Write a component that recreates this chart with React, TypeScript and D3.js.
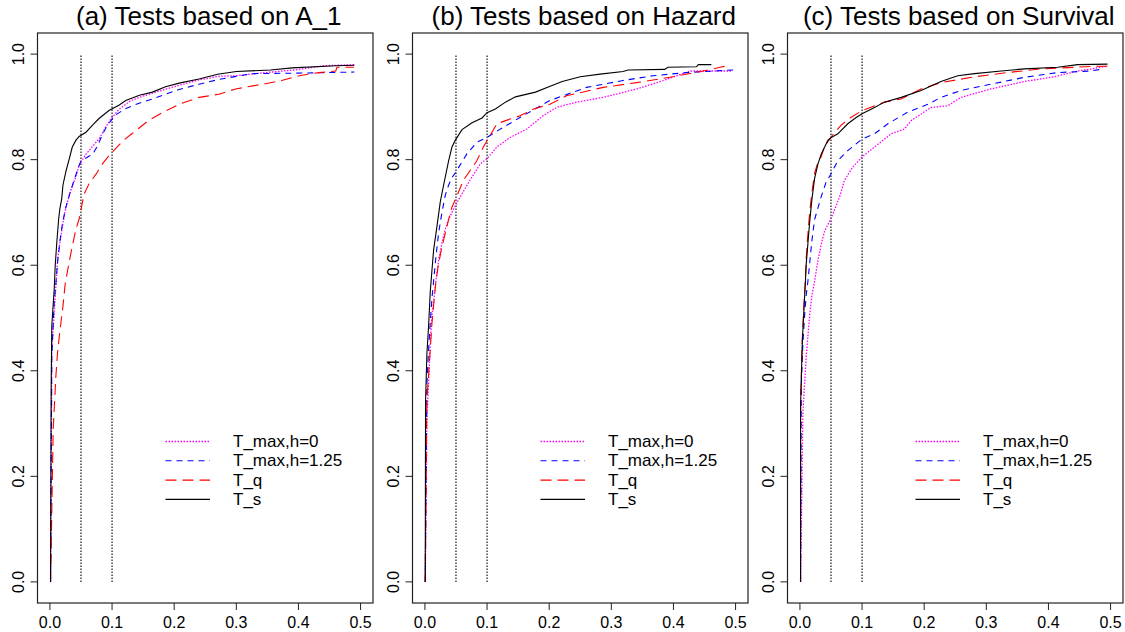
import { useMemo } from "react";
import * as d3 from "d3";

const WIDTH = 1125;
const HEIGHT = 632;
const PANEL_W = 375;
const MARGIN = { top: 33, right: 2, bottom: 29, left: 37.5 };
const FONT = "'Liberation Sans', Arial, Helvetica, sans-serif";

const TITLES = [
  "(a) Tests based on A_1",
  "(b) Tests based on Hazard",
  "(c) Tests based on Survival",
];
const LABELS = ["T_max,h=0", "T_max,h=1.25", "T_q", "T_s"];
const COLORS = ["#ff00ff", "#0000ff", "#ff0000", "black"];
const DASHES = ["1.5,1.5", "6,5", "11,6", "none"];
const WIDTHS = [1.3, 1.1, 1.1, 1.1];

const X_TICKS = [0, 0.1, 0.2, 0.3, 0.4, 0.5];
const Y_TICKS = [0, 0.2, 0.4, 0.6, 0.8, 1.0];
const SIZE_LINES = [0.05, 0.1];

// (a) A_1
const A_TMAX0_X = [0.001, 0.003, 0.0096, 0.0123, 0.015, 0.0203, 0.0257, 0.0337, 0.0418, 0.0471, 0.0578, 0.0685, 0.0793, 0.09, 0.098, 0.111, 0.1275, 0.1436, 0.1757, 0.208, 0.24, 0.272, 0.299, 0.347, 0.395, 0.441, 0.492];
const A_TMAX0_Y = [0, 0.44, 0.56, 0.61, 0.635, 0.675, 0.71, 0.742, 0.768, 0.79, 0.81, 0.825, 0.84, 0.862, 0.877, 0.895, 0.91, 0.918, 0.93, 0.941, 0.951, 0.958, 0.959, 0.965, 0.97, 0.978, 0.98];
const A_TMAX125_X = [0.001, 0.003, 0.0069, 0.0096, 0.0123, 0.016, 0.0203, 0.0257, 0.0321, 0.0391, 0.046, 0.0498, 0.062, 0.0685, 0.0766, 0.0846, 0.0927, 0.1061, 0.1221, 0.1436, 0.165, 0.1864, 0.208, 0.24, 0.272, 0.325, 0.4, 0.49];
const A_TMAX125_Y = [0, 0.427, 0.53, 0.565, 0.605, 0.645, 0.68, 0.71, 0.736, 0.762, 0.786, 0.797, 0.806, 0.81, 0.826, 0.848, 0.866, 0.885, 0.897, 0.907, 0.915, 0.924, 0.933, 0.943, 0.952, 0.963, 0.964, 0.966];
const A_TQ_X = [0.001, 0.0053, 0.0096, 0.0123, 0.016, 0.0203, 0.0246, 0.03, 0.0353, 0.0418, 0.0471, 0.0551, 0.0632, 0.0739, 0.0846, 0.0953, 0.1034, 0.1168, 0.1328, 0.1436, 0.1596, 0.181, 0.208, 0.24, 0.272, 0.299, 0.347, 0.373, 0.401, 0.433, 0.46, 0.462, 0.489];
const A_TQ_Y = [0, 0.29, 0.39, 0.435, 0.475, 0.515, 0.565, 0.6, 0.632, 0.668, 0.688, 0.735, 0.755, 0.772, 0.792, 0.808, 0.818, 0.835, 0.85, 0.86, 0.875, 0.889, 0.905, 0.918, 0.924, 0.934, 0.944, 0.95, 0.959, 0.965, 0.968, 0.975, 0.975];
const A_TS_X = [0.001, 0.002, 0.003, 0.007, 0.0085, 0.011, 0.014, 0.016, 0.019, 0.021, 0.026, 0.031, 0.036, 0.042, 0.047, 0.058, 0.069, 0.079, 0.095, 0.111, 0.122, 0.144, 0.165, 0.186, 0.208, 0.24, 0.27, 0.3, 0.355, 0.39, 0.46, 0.49];
const A_TS_Y = [0, 0.37, 0.485, 0.557, 0.599, 0.642, 0.687, 0.707, 0.726, 0.752, 0.779, 0.801, 0.824, 0.837, 0.844, 0.852, 0.866, 0.878, 0.893, 0.903, 0.912, 0.922, 0.928, 0.938, 0.945, 0.953, 0.962, 0.967, 0.97, 0.974, 0.978, 0.979];

// (b) Hazard
const B_TMAX0_X = [0.0005, 0.0032, 0.0059, 0.0086, 0.0113, 0.014, 0.0177, 0.022, 0.0274, 0.0328, 0.0382, 0.0435, 0.0489, 0.062, 0.073, 0.089, 0.1, 0.1158, 0.137, 0.164, 0.19, 0.212, 0.244, 0.287, 0.341, 0.384, 0.427, 0.494];
const B_TMAX0_Y = [0, 0.31, 0.375, 0.453, 0.505, 0.531, 0.57, 0.609, 0.642, 0.668, 0.687, 0.7, 0.713, 0.74, 0.762, 0.792, 0.802, 0.824, 0.842, 0.858, 0.883, 0.899, 0.909, 0.918, 0.934, 0.95, 0.968, 0.968];
const B_TMAX125_X = [0.0005, 0.0032, 0.0059, 0.0086, 0.0113, 0.014, 0.0177, 0.022, 0.0274, 0.0328, 0.0382, 0.0435, 0.0489, 0.0675, 0.0836, 0.1, 0.113, 0.153, 0.201, 0.26, 0.319, 0.367, 0.421, 0.496];
const B_TMAX125_Y = [0, 0.375, 0.44, 0.492, 0.537, 0.57, 0.616, 0.661, 0.7, 0.733, 0.752, 0.766, 0.775, 0.811, 0.833, 0.842, 0.852, 0.88, 0.912, 0.937, 0.95, 0.959, 0.965, 0.97];
const B_TQ_X = [0.0005, 0.003, 0.0086, 0.0113, 0.014, 0.0177, 0.022, 0.0274, 0.0328, 0.0382, 0.0435, 0.0505, 0.062, 0.073, 0.0836, 0.094, 0.1, 0.1158, 0.137, 0.153, 0.175, 0.201, 0.228, 0.287, 0.341, 0.394, 0.448, 0.475, 0.483];
const B_TQ_Y = [0, 0.342, 0.44, 0.49, 0.524, 0.57, 0.603, 0.635, 0.661, 0.687, 0.71, 0.729, 0.761, 0.78, 0.798, 0.824, 0.836, 0.868, 0.877, 0.883, 0.896, 0.905, 0.921, 0.937, 0.946, 0.956, 0.968, 0.975, 0.977];
const B_TS_X = [0.0005, 0.001, 0.0032, 0.0059, 0.0086, 0.0113, 0.014, 0.0194, 0.0247, 0.0301, 0.0382, 0.0435, 0.0489, 0.0597, 0.0758, 0.0919, 0.1, 0.1134, 0.1296, 0.1457, 0.178, 0.1995, 0.221, 0.25, 0.282, 0.319, 0.327, 0.386, 0.391, 0.437, 0.44, 0.461];
const B_TS_Y = [0, 0.342, 0.433, 0.485, 0.55, 0.59, 0.629, 0.674, 0.72, 0.752, 0.798, 0.824, 0.837, 0.857, 0.87, 0.879, 0.889, 0.896, 0.909, 0.919, 0.928, 0.938, 0.948, 0.957, 0.962, 0.967, 0.97, 0.971, 0.975, 0.976, 0.98, 0.98];

// (c) Survival
const C_TMAX0_X = [0.001, 0.0048, 0.0075, 0.0102, 0.0129, 0.0156, 0.0194, 0.0237, 0.029, 0.0344, 0.0398, 0.0452, 0.05, 0.0637, 0.0717, 0.085, 0.1, 0.12, 0.147, 0.168, 0.179, 0.211, 0.238, 0.259, 0.3076, 0.361, 0.409, 0.447, 0.495];
const C_TMAX0_Y = [0, 0.322, 0.375, 0.427, 0.466, 0.505, 0.544, 0.57, 0.609, 0.64, 0.665, 0.677, 0.688, 0.729, 0.761, 0.786, 0.805, 0.824, 0.849, 0.858, 0.874, 0.899, 0.902, 0.918, 0.934, 0.948, 0.957, 0.968, 0.977];
const C_TMAX125_X = [0.001, 0.0022, 0.0048, 0.0075, 0.0102, 0.0129, 0.0156, 0.0194, 0.0237, 0.034, 0.042, 0.05, 0.061, 0.077, 0.1, 0.12, 0.1415, 0.1736, 0.206, 0.227, 0.259, 0.3076, 0.361, 0.415, 0.468, 0.489];
const C_TMAX125_Y = [0, 0.375, 0.453, 0.505, 0.544, 0.57, 0.603, 0.648, 0.687, 0.729, 0.757, 0.773, 0.798, 0.817, 0.839, 0.849, 0.868, 0.89, 0.905, 0.918, 0.931, 0.943, 0.956, 0.965, 0.968, 0.972];
const C_TQ_X = [0.001, 0.0011, 0.0038, 0.0065, 0.0086, 0.0102, 0.0129, 0.0156, 0.0194, 0.0237, 0.029, 0.034, 0.0398, 0.05, 0.066, 0.082, 0.1, 0.136, 0.163, 0.195, 0.227, 0.281, 0.334, 0.388, 0.441, 0.474, 0.495];
const C_TQ_Y = [0, 0.335, 0.46, 0.525, 0.57, 0.615, 0.66, 0.7, 0.739, 0.775, 0.795, 0.805, 0.825, 0.843, 0.865, 0.88, 0.893, 0.909, 0.915, 0.934, 0.946, 0.957, 0.965, 0.972, 0.975, 0.977, 0.977];
const C_TS_X = [0.001, 0.0011, 0.0038, 0.0065, 0.0086, 0.0102, 0.0129, 0.0156, 0.0194, 0.0237, 0.029, 0.0344, 0.0398, 0.0452, 0.0505, 0.061, 0.077, 0.0905, 0.1, 0.12, 0.136, 0.163, 0.195, 0.227, 0.254, 0.281, 0.324, 0.361, 0.415, 0.447, 0.495];
const C_TS_Y = [0, 0.335, 0.453, 0.518, 0.563, 0.603, 0.642, 0.681, 0.726, 0.765, 0.792, 0.811, 0.824, 0.837, 0.842, 0.849, 0.868, 0.88, 0.887, 0.899, 0.909, 0.918, 0.931, 0.948, 0.959, 0.963, 0.968, 0.972, 0.975, 0.98, 0.981];

const zip = (xs: number[], ys: number[]): [number, number][] =>
  xs.map((x, i) => [x, ys[i]]);

const PANELS = [
  [zip(A_TMAX0_X, A_TMAX0_Y), zip(A_TMAX125_X, A_TMAX125_Y), zip(A_TQ_X, A_TQ_Y), zip(A_TS_X, A_TS_Y)],
  [zip(B_TMAX0_X, B_TMAX0_Y), zip(B_TMAX125_X, B_TMAX125_Y), zip(B_TQ_X, B_TQ_Y), zip(B_TS_X, B_TS_Y)],
  [zip(C_TMAX0_X, C_TMAX0_Y), zip(C_TMAX125_X, C_TMAX125_Y), zip(C_TQ_X, C_TQ_Y), zip(C_TS_X, C_TS_Y)],
];

const Panel = ({ index, title, series }: { index: number; title: string; series: [number, number][][] }) => {
  const left = index * PANEL_W + MARGIN.left;
  const right = (index + 1) * PANEL_W - MARGIN.right;
  const top = MARGIN.top;
  const bottom = HEIGHT - MARGIN.bottom;

  const xScale = useMemo(() => d3.scaleLinear().domain([-0.02, 0.52]).range([left, right]), [left, right]);
  const yScale = useMemo(() => d3.scaleLinear().domain([-0.04, 1.04]).range([bottom, top]), [bottom, top]);

  const line = d3
    .line<[number, number]>()
    .x((d) => xScale(d[0]))
    .y((d) => yScale(d[1]));

  const fmt = d3.format(".1f");

  return (
    <g>
      <text
        x={(left + right) / 2 + 3.5}
        y={25}
        textAnchor="middle"
        fontSize={26}
        fontFamily={FONT}
      >
        {title}
      </text>

      {/* dotted reference lines at nominal sizes */}
      {SIZE_LINES.map((v) => (
        <line
          key={v}
          x1={xScale(v)}
          x2={xScale(v)}
          y1={yScale(0)}
          y2={yScale(1)}
          stroke="black"
          strokeWidth={1.1}
          strokeDasharray="1.5,1.5"
        />
      ))}

      {series.map((pts, i) => (
        <path
          key={i}
          d={line(pts) ?? ""}
          fill="none"
          stroke={COLORS[i]}
          strokeWidth={WIDTHS[i]}
          strokeDasharray={DASHES[i]}
        />
      ))}

      <rect
        x={left}
        y={top}
        width={right - left}
        height={bottom - top}
        fill="none"
        stroke="#222"
        strokeWidth={1.2}
      />

      {X_TICKS.map((t) => (
        <g key={t}>
          <line x1={xScale(t)} x2={xScale(t)} y1={bottom} y2={bottom + 7} stroke="#222" />
          <text x={xScale(t)} y={628} textAnchor="middle" fontSize={16} fontFamily={FONT}>
            {fmt(t)}
          </text>
        </g>
      ))}

      {Y_TICKS.map((t) => (
        <g key={t}>
          <line x1={left - 7} x2={left} y1={yScale(t)} y2={yScale(t)} stroke="#222" />
          <text
            transform={`translate(${left - 14},${yScale(t)}) rotate(-90)`}
            textAnchor="middle"
            fontSize={16}
            fontFamily={FONT}
          >
            {fmt(t)}
          </text>
        </g>
      ))}

      {LABELS.map((label, i) => {
        const y = 441.5 + i * 19.3;
        return (
          <g key={label}>
            <line
              x1={left + 128}
              x2={left + 172.5}
              y1={y}
              y2={y}
              stroke={COLORS[i]}
              strokeWidth={WIDTHS[i]}
              strokeDasharray={DASHES[i]}
            />
            <text x={left + 195.5} y={y} dominantBaseline="central" fontSize={17} fontFamily={FONT}>
              {label}
            </text>
          </g>
        );
      })}
    </g>
  );
};

export default function App() {
  return (
    <svg
      width={WIDTH}
      height={HEIGHT}
      style={{ position: "absolute", left: 0, top: 0, background: "white" }}
    >
      <rect width={WIDTH} height={HEIGHT} fill="white" />
      {PANELS.map((series, i) => (
        <Panel key={i} index={i} title={TITLES[i]} series={series} />
      ))}
    </svg>
  );
}
